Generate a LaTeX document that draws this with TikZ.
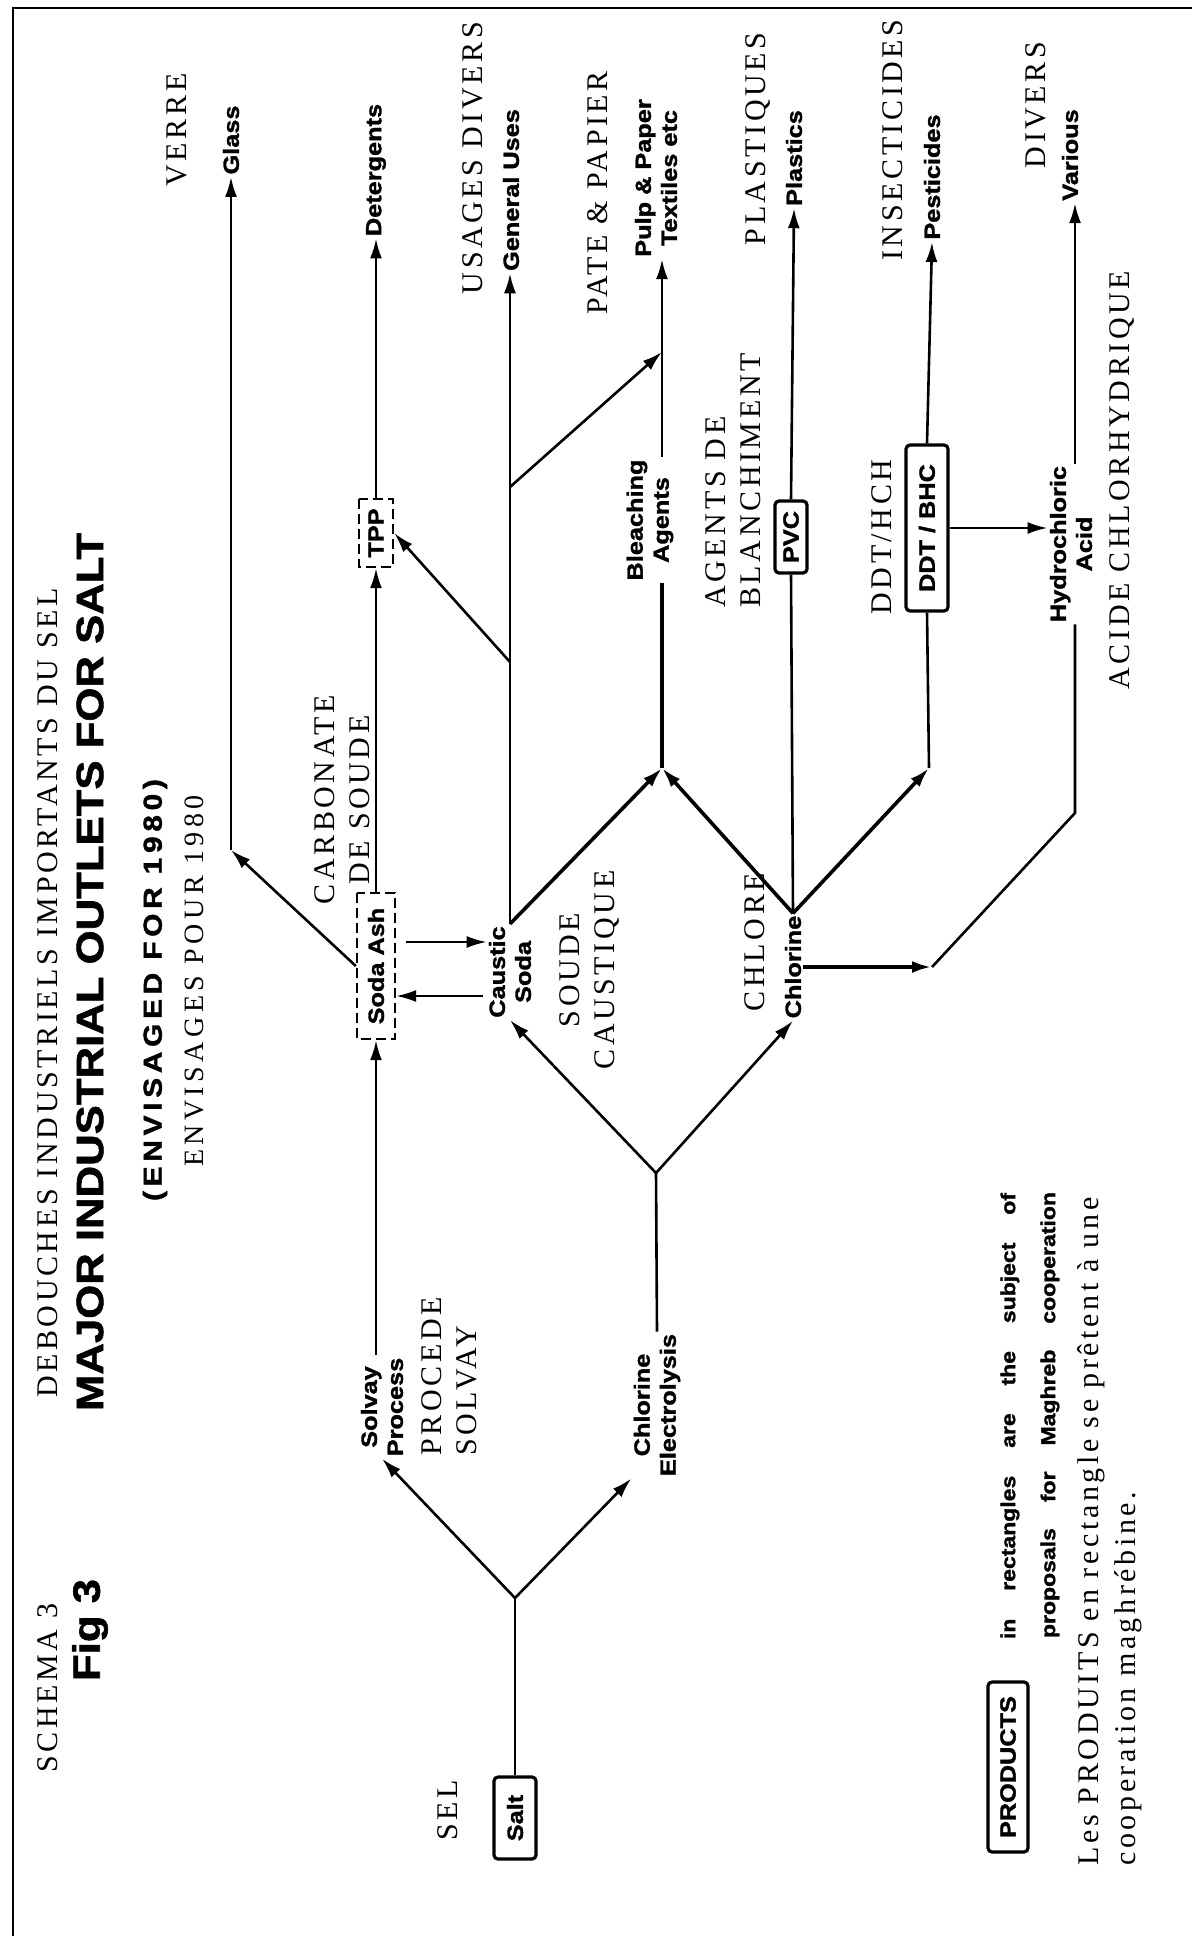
\documentclass[tikz,border=0pt]{standalone}
\usepackage{fontspec}
\usepackage{tikz}
\usetikzlibrary{arrows.meta, positioning, calc}
\setmainfont{Liberation Serif}
\newfontfamily\labfont[FakeStretch=1.15, FakeBold=1.5]{Liberation Sans}
\newfontfamily\frfont[LetterSpace=12]{Liberation Serif}

\tikzset{
  lab/.style={rotate=90, font=\labfont\bfseries\fontsize{11}{13}\selectfont,
              align=center, inner sep=1pt},
  fr/.style={rotate=90, font=\frfont\fontsize{15}{17.5}\selectfont,
             align=center, inner sep=1pt},
  prodbox/.style={lab, draw, line width=1.6pt, rounded corners=2pt},
  propbox/.style={lab, draw, line width=1.2pt, dash pattern=on 5pt off 2.5pt},
  link/.style={line width=1.3pt},
  flow/.style={link, -{Latex[length=10pt,width=6pt]}},
}

\begin{document}
\begin{tikzpicture}[x=0.5pt, y=-0.5pt]
  \useasboundingbox (0,0) rectangle (1203,1936);
  \draw[line width=1.2pt] (13,1936) -- (13,8) -- (1192,8);

  % heading
  \node[fr] (schema) at (48,1688) {SCHEMA 3};
  \node[fr] (debouches) at (48,993) {DEBOUCHES INDUSTRIELS IMPORTANTS DU SEL};
  \node[lab, font=\labfont\bfseries\fontsize{19}{22}\selectfont] (fig) at (90,1630) {Fig 3};
  \node[lab, font=\labfont\bfseries\fontsize{19}{22}\selectfont] (title) at (90,972)
       {MAJOR INDUSTRIAL OUTLETS FOR SALT};
  \node[lab, font=\labfont\bfseries\fontsize{13}{15}\selectfont\addfontfeature{LetterSpace=18}]
       (envis) at (155,990) {(ENVISAGED FOR 1980)};
  \node[fr, font=\frfont\fontsize{14}{16}\selectfont\addfontfeature{LetterSpace=16}]
       (envisfr) at (194,981) {ENVISAGES POUR 1980};

  % salt and the two processes
  \node[prodbox, minimum width=41pt, minimum height=21pt] (salt) at (515,1818) {Salt};
  \node[fr] (sel) at (448,1810) {SEL};
  \coordinate (fork1) at (515,1598);
  \node[lab] (solvay) at (382,1407) {Solvay\\Process};
  \node[fr, align=left, anchor=west] (procede) at (449,1458) {PROCEDE\\SOLVAY};
  \node[lab] (electro) at (657,1405) {Chlorine\\Electrolysis};
  \draw[link] (salt.east) -- (fork1);
  \draw[flow] (fork1) -- (solvay.west);
  \draw[flow] (fork1) -- (electro.north west);

  \coordinate (fork2) at (656,1173);
  \node[lab] (caustic) at (510,972) {Caustic\\Soda};
  \node[fr] (soude) at (589,970) {SOUDE\\CAUSTIQUE};
  \node[lab] (chlorine) at (793,967) {Chlorine};
  \node[fr] (chlore) at (755,942) {CHLORE};
  \draw[link] (electro.east) -- (fork2);
  \draw[flow] (fork2) -- (caustic.west);
  \draw[flow] (fork2) -- (chlorine.west);

  % soda ash
  \node[propbox, minimum width=73pt, minimum height=19pt] (sodaash) at (376,966) {Soda Ash};
  \node[fr] (carbonate) at (342,800) {CARBONATE\\DE SOUDE};
  \draw[flow] (sodaash.west |- solvay.east) -- (sodaash.west);
  \draw[flow, line width=1pt, shorten <=5pt] (sodaash.south |- 0,942) -- (caustic.north |- 0,942);
  \draw[flow, line width=1pt, shorten <=2pt] (caustic.north |- 0,996) -- (sodaash.south |- 0,996);

  \node[propbox, minimum width=34pt, minimum height=17pt] (tpp) at (376,533) {TPP};
  \node[lab] (detergents) at (376,170) {Detergents};
  \draw[flow] (sodaash.east) -- (tpp.west);
  \draw[flow] (tpp.east) -- (detergents.west);

  \node[lab] (glass) at (231,140) {Glass};
  \node[fr] (verre) at (177,130) {VERRE};
  \coordinate (gjoin) at (231,850);
  \draw[flow] (sodaash.north) -- (gjoin);
  \draw[flow] (gjoin) -- (glass.west);

  % caustic soda
  \node[lab] (general) at (511,190) {General Uses};
  \node[fr] (usages) at (473,158) {USAGES DIVERS};
  \draw[flow] (caustic.east) -- (caustic.east |- general.west);
  \coordinate (tppfork) at (caustic.east |- 0,662);
  \coordinate (pulpfork) at (caustic.east |- 0,487);
  \draw[flow] (tppfork) -- (tpp.south);

  \node[lab] (bleach) at (650,520) {Bleaching\\Agents};
  \node[fr, align=left, anchor=west] (agentsfr) at (733,610) {AGENTS DE\\BLANCHIMENT};
  \coordinate (bjoin) at (662,768);
  \coordinate (pjoin) at (662,352);
  \draw[flow, line width=1.8pt] (caustic.east) -- (bjoin);
  \draw[flow, line width=1.8pt] (chlorine.east) -- (bjoin);
  \draw[link, line width=1.8pt] (bjoin) -- (bjoin |- bleach.west);
  \node[lab] (pulp) at (656,178) {Pulp \& Paper\\Textiles etc};
  \node[fr] (pate) at (598,193) {PATE \& PAPIER};
  \draw[flow] (bjoin |- bleach.east) -- (bjoin |- pulp.west);
  \draw[flow] (pulpfork) -- (pjoin);

  % chlorine
  \node[prodbox, minimum width=36pt, minimum height=16pt] (pvc) at (791,537) {PVC};
  \node[lab] (plastics) at (794,158) {Plastics};
  \node[fr] (plastiques) at (758,139) {PLASTIQUES};
  \draw[link] (chlorine.east) -- (pvc.west);
  \draw[flow] (pvc.east) -- (plastics.west);

  \coordinate (djoin) at (929,768);
  \node[prodbox, minimum width=83pt, minimum height=21pt] (ddt) at (927,528) {DDT / BHC};
  \node[fr] (ddthch) at (882,537) {DDT/HCH};
  \node[lab] (pesticides) at (932,177) {Pesticides};
  \node[fr] (insect) at (893,140) {INSECTICIDES};
  \draw[flow, line width=1.8pt] (chlorine.east) -- (djoin);
  \draw[link] (djoin) -- (ddt.west);
  \draw[flow] (ddt.east) -- (pesticides.west);

  \node[lab] (hcl) at (1071,544) {Hydrochloric\\Acid};
  \node[fr] (acidefr) at (1122,480) {ACIDE CHLORHYDRIQUE};
  \draw[flow] (ddt.south) -- (ddt.south -| hcl.north);
  \coordinate (cbend) at (932,963);
  \coordinate (hbend) at (1075,813);
  \draw[flow, line width=2pt] (chlorine.south) -- (chlorine.south -| cbend);
  \draw[link] (chlorine.south -| cbend) -- (hbend) -- (hbend |- hcl.west);
  \node[lab] (various) at (1070,155) {Various};
  \node[fr] (divers) at (1036,105) {DIVERS};
  \draw[flow] (hbend |- hcl.east) -- (hbend |- various.west);

  % legend
  \node[prodbox, minimum width=85pt, minimum height=20pt] (products) at (1008,1767) {PRODUCTS};
  \node[lab, font=\labfont\bfseries\fontsize{10}{12}\selectfont] (leg1) at (1010,1416)
       {\makebox[223pt][s]{in rectangles are the subject of}};
  \node[lab, font=\labfont\bfseries\fontsize{10}{12}\selectfont] (leg2) at (1050,1415)
       {\makebox[223pt][s]{proposals for Maghreb cooperation}};
  \node[fr, align=left, anchor=west, font=\frfont\fontsize{15}{18.5}\selectfont] (legfr) at (1110,1868)
       {Les PRODUITS en rectangle se prêtent à une\\cooperation maghrébine.};
\end{tikzpicture}
\end{document}
